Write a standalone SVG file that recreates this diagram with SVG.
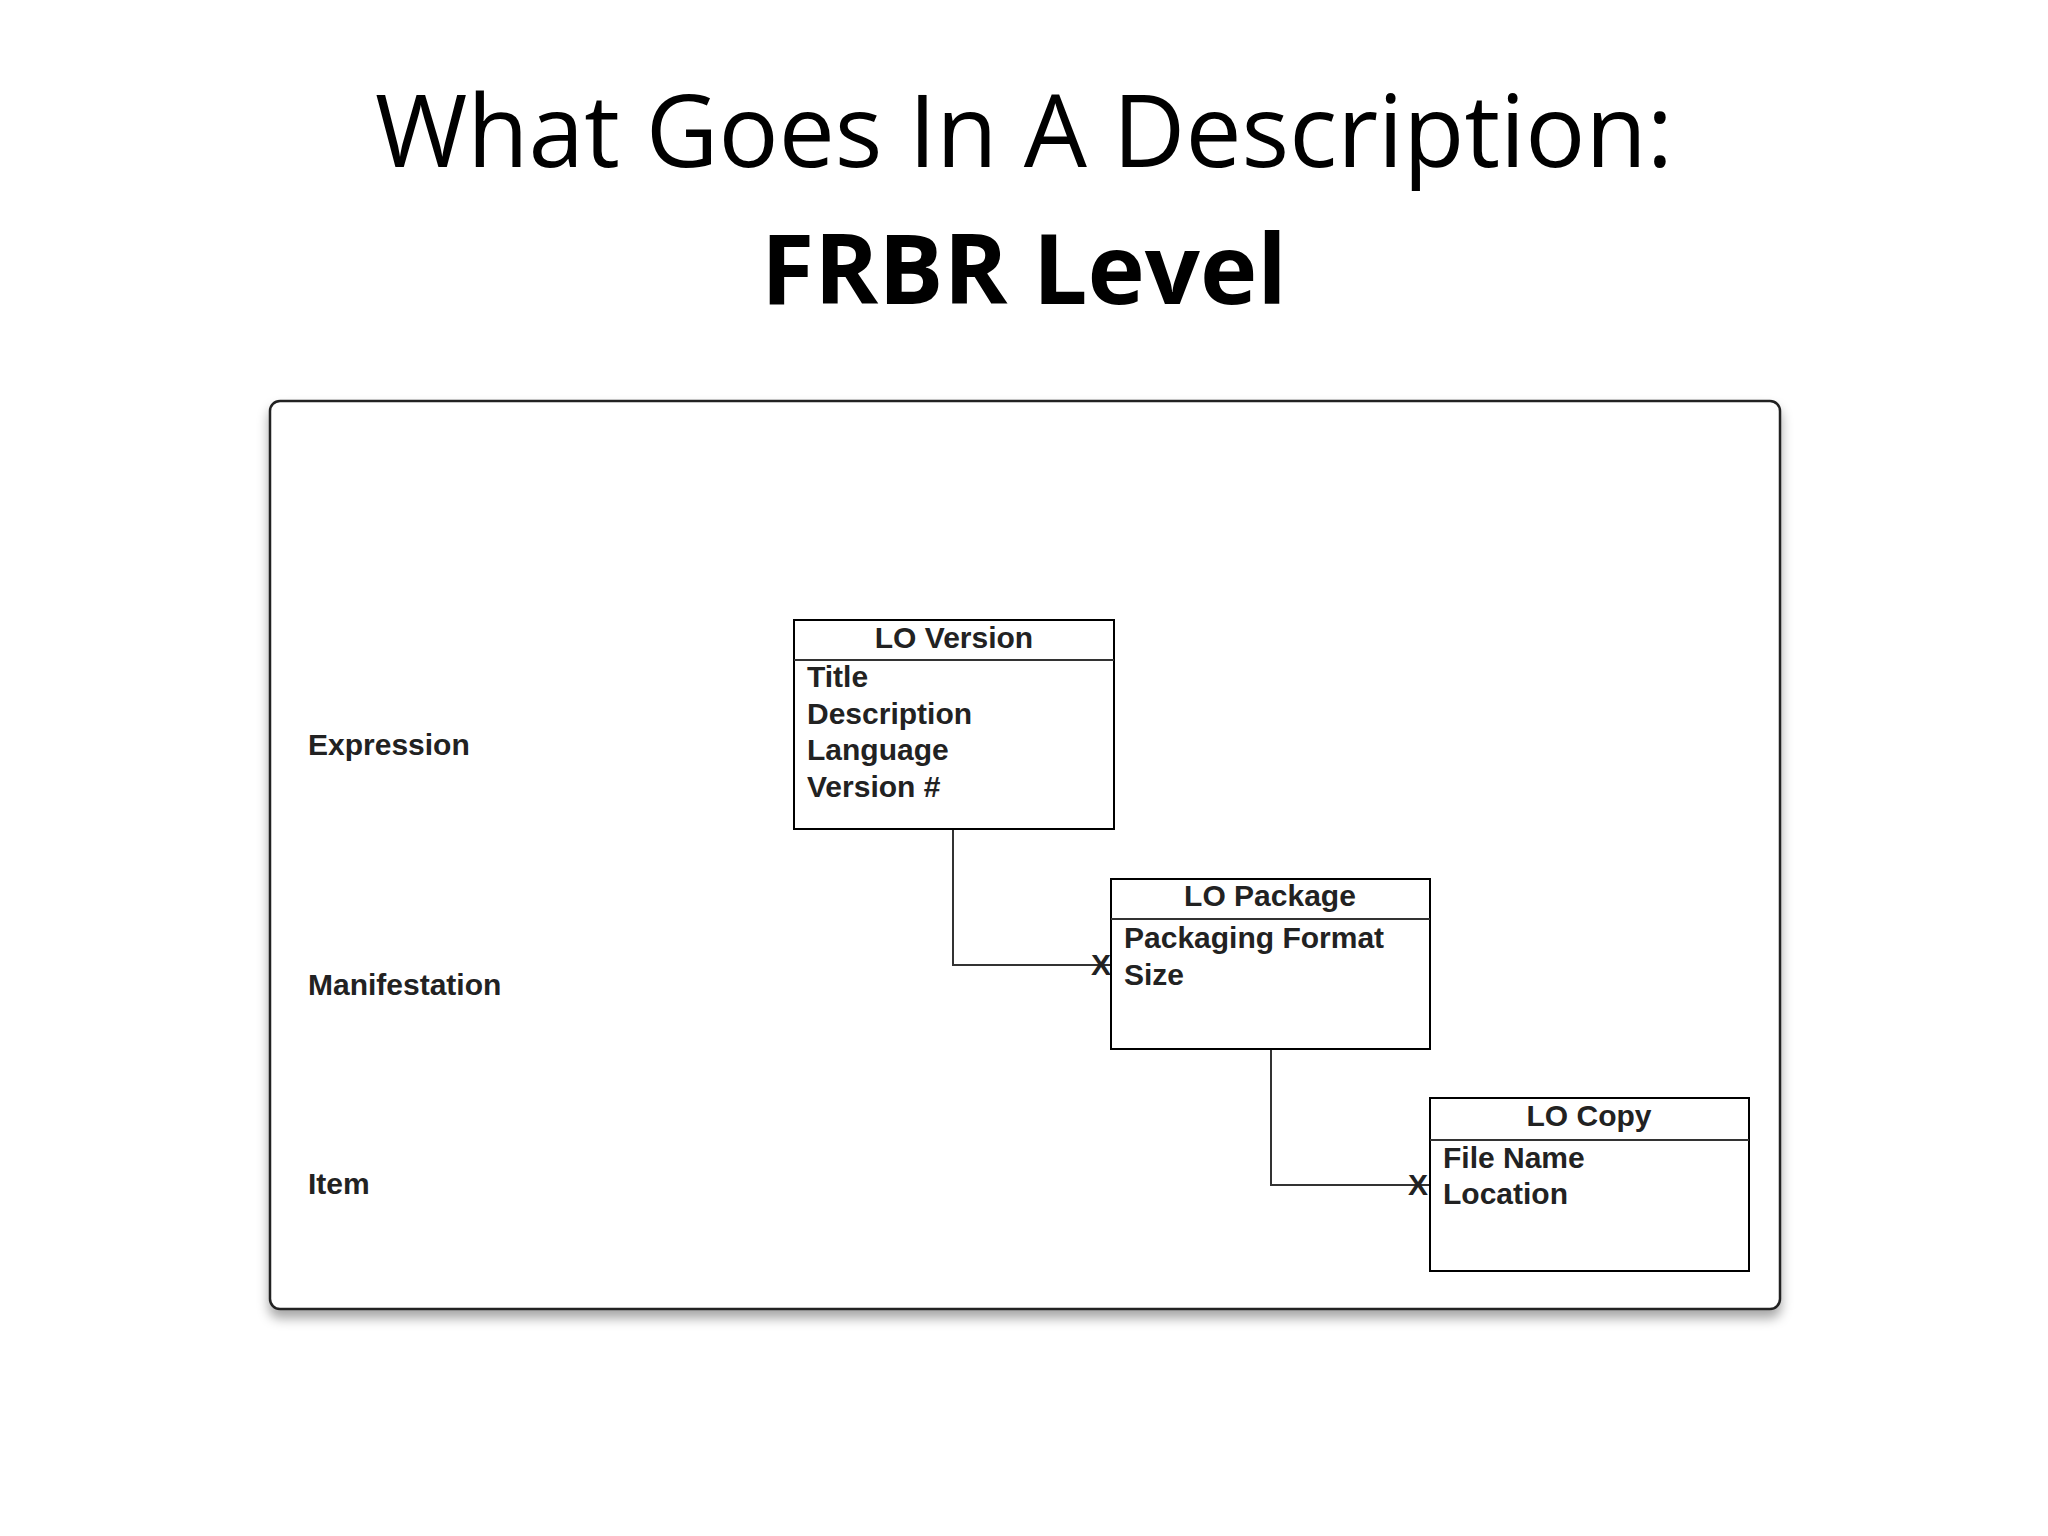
<svg xmlns="http://www.w3.org/2000/svg" width="2048" height="1536" viewBox="0 0 2048 1536">
<defs>
<filter id="sh" x="-5%" y="-5%" width="110%" height="115%"><feDropShadow dx="0" dy="8" stdDeviation="6" flood-color="#000" flood-opacity="0.35"/></filter>
<style>
.t{font-family:"Open Sans","Liberation Sans",sans-serif;fill:#000;text-anchor:middle}
.f{font-family:"Liberation Sans",Arial,sans-serif;font-weight:bold;font-size:30px;fill:#222}
.h{text-anchor:middle}
.b{fill:#fff;stroke:#000;stroke-width:2}
.c{fill:none;stroke:#333;stroke-width:2}
</style>
</defs>
<rect width="2048" height="1536" fill="#fff"/>
<text class="t" x="1024" y="167" font-size="100">What Goes In A Description:</text>
<text class="t" x="1024" y="304" font-size="97" font-weight="bold">FRBR Level</text>
<rect x="270" y="401" width="1510" height="908" rx="10" fill="#fff" stroke="#222" stroke-width="2.5" filter="url(#sh)"/>
<g id="labels">
<text class="f" x="308" y="755">Expression</text>
<text class="f" x="308" y="995">Manifestation</text>
<text class="f" x="308" y="1194">Item</text>
</g>
<g id="connectors">
<path class="c" d="M953 829V965H1111"/>
<text class="f" x="1101" y="975" text-anchor="middle">X</text>
<path class="c" d="M1271 1049V1185H1430"/>
<text class="f" x="1418" y="1195" text-anchor="middle">X</text>
</g>
<g id="lo-version">
<rect class="b" x="794" y="620" width="320" height="209"/>
<line class="c" stroke="#000" x1="794" y1="660" x2="1114" y2="660"/>
<text class="f h" x="954" y="648">LO Version</text>
<text class="f" x="807" y="687">Title</text>
<text class="f" x="807" y="724">Description</text>
<text class="f" x="807" y="760">Language</text>
<text class="f" x="807" y="797">Version #</text>
</g>
<g id="lo-package">
<rect class="b" x="1111" y="879" width="319" height="170"/>
<line class="c" stroke="#000" x1="1111" y1="919" x2="1430" y2="919"/>
<text class="f h" x="1270" y="906">LO Package</text>
<text class="f" x="1124" y="948">Packaging Format</text>
<text class="f" x="1124" y="985">Size</text>
</g>
<g id="lo-copy">
<rect class="b" x="1430" y="1098" width="319" height="173"/>
<line class="c" stroke="#000" x1="1430" y1="1140" x2="1749" y2="1140"/>
<text class="f h" x="1589" y="1126">LO Copy</text>
<text class="f" x="1443" y="1168">File Name</text>
<text class="f" x="1443" y="1204">Location</text>
</g>
</svg>
